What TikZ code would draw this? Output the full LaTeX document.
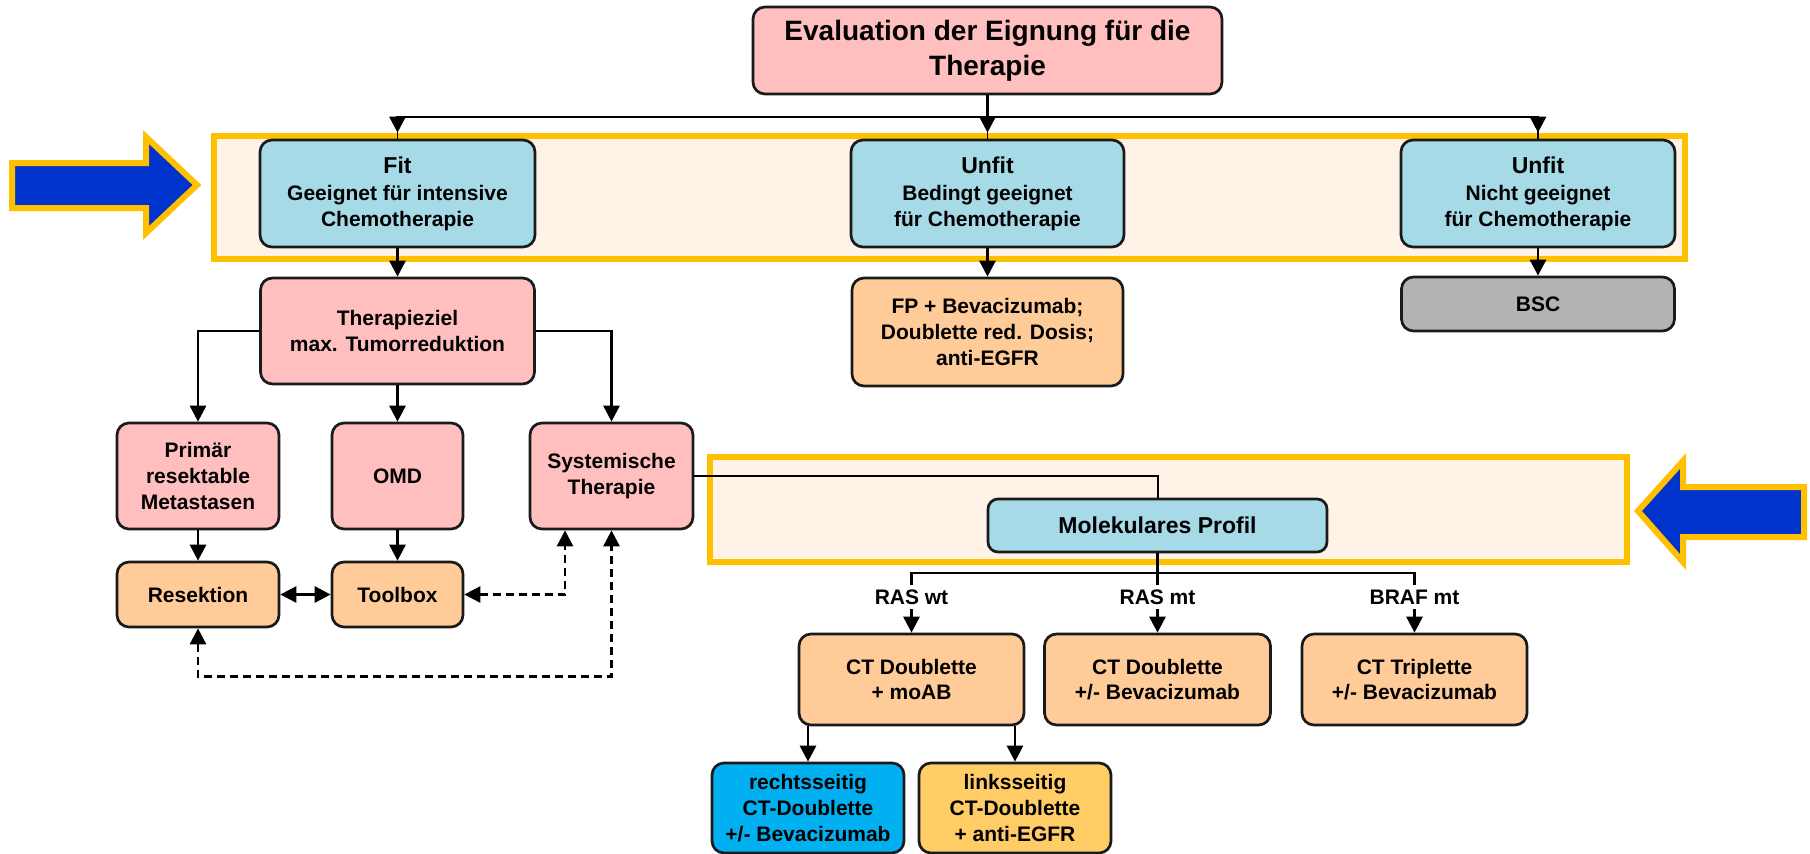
\documentclass[tikz,border=0pt]{standalone}
\usepackage{fontspec}
\setmainfont{Liberation Sans}
\usetikzlibrary{arrows.meta,calc,backgrounds}
\definecolor{pinkbox}{HTML}{FFBFBF}
\definecolor{bluebox}{HTML}{A5DAE6}
\definecolor{orangebox}{HTML}{FFCC99}
\definecolor{graybox}{HTML}{B3B3B3}
\definecolor{framefill}{HTML}{FFF2E6}
\definecolor{frameyellow}{HTML}{FFC000}
\definecolor{arrowblue}{HTML}{0033CC}
\definecolor{cyanbox}{HTML}{00B0F0}
\definecolor{ambox}{HTML}{FFCC66}
\definecolor{edge}{HTML}{1A1A1A}
\newcommand\myhdfont{\fontsize{11.5}{14}\selectfont}
\tikzset{
  bx/.style={draw=edge, line width=1.35pt, rounded corners=6pt, align=center, inner sep=0pt,
    font=\bfseries\fontsize{10.5}{12.8}\selectfont, text=black},
  lab/.style={inner sep=0pt, minimum height=12pt, font=\bfseries\fontsize{10.5}{12.8}\selectfont},
  conn/.style={line width=1.4pt, draw=black},
  arr/.style={conn, -{Triangle[length=8pt,width=8pt]}},
  darr/.style={conn, {Triangle[length=8pt,width=8pt]}-{Triangle[length=8pt,width=8pt]}},
  dsh/.style={dash pattern=on 4pt off 2.5pt},
  frm/.style={fill=framefill, draw=frameyellow, line width=3pt},
  bigarrow/.style={fill=arrowblue, draw=frameyellow, line width=3pt, line join=miter},
}
\begin{document}
\begin{tikzpicture}[x=0.5pt, y=-0.5pt]
\useasboundingbox (0,0) rectangle (1810,853);

% nodes
\node[bx, fill=pinkbox, minimum width=234.5pt, minimum height=43.5pt,
  font=\bfseries\fontsize{14}{17.5}\selectfont] (title) at (987.5,50.5)
  {Evaluation der Eignung für die\\Therapie};

\node[bx, fill=bluebox, minimum width=137.5pt, minimum height=53.5pt] (fit) at (397.5,193.5)
  {{\myhdfont Fit}\\[1pt] Geeignet für intensive\\ Chemotherapie};
\node[bx, fill=bluebox, minimum width=136.5pt, minimum height=53.5pt] (unfitA) at (987.5,193.5)
  {{\myhdfont Unfit}\\[1pt] Bedingt geeignet\\ für Chemotherapie};
\node[bx, fill=bluebox, minimum width=137pt, minimum height=53.5pt] (unfitB) at (1538,193.5)
  {{\myhdfont Unfit}\\[1pt] Nicht geeignet\\ für Chemotherapie};

\node[bx, fill=pinkbox, minimum width=137pt, minimum height=53pt] (ziel) at (397.5,331)
  {Therapieziel\\ max. Tumorreduktion};
\node[bx, fill=orangebox, minimum width=135.5pt, minimum height=54pt] (fp) at (987.5,332)
  {FP + Bevacizumab;\\ Doublette red. Dosis;\\ anti-EGFR};
\node[bx, fill=graybox, minimum width=136.5pt, minimum height=27pt] (bsc) at (1538,304)
  {BSC};

\node[bx, fill=pinkbox, minimum width=81pt, minimum height=53pt] (prim) at (198,476)
  {Primär\\ resektable\\ Metastasen};
\node[bx, fill=pinkbox, minimum width=65.5pt, minimum height=53pt] (omd) at (397.5,476)
  {OMD};
\node[bx, fill=pinkbox, minimum width=81.5pt, minimum height=53pt] (sys) at (611.5,476)
  {Systemische\\ Therapie};

\node[bx, fill=orangebox, minimum width=81pt, minimum height=32.5pt] (res) at (198,594.5)
  {Resektion};
\node[bx, fill=orangebox, minimum width=65.5pt, minimum height=32.5pt] (tool) at (397.5,594.5)
  {Toolbox};

\node[bx, fill=bluebox, minimum width=169.5pt, minimum height=26.5pt, rounded corners=5pt,
  font=\bfseries\fontsize{11.5}{14}\selectfont] (mol) at (1157.5,525.5)
  {Molekulares Profil};

\node[lab] (labA) at (911.5,597) {RAS wt};
\node[lab] (labB) at (1157.5,597) {RAS mt};
\node[lab] (labC) at (1414.5,597) {BRAF mt};

\node[bx, fill=orangebox, minimum width=112.5pt, minimum height=45.5pt] (ctA) at (911.5,679.5)
  {CT Doublette\\ + moAB};
\node[bx, fill=orangebox, minimum width=113pt, minimum height=45.5pt] (ctB) at (1157.5,679.5)
  {CT Doublette\\ +/- Bevacizumab};
\node[bx, fill=orangebox, minimum width=112.5pt, minimum height=45.5pt] (ctC) at (1414.5,679.5)
  {CT Triplette\\ +/- Bevacizumab};

\node[bx, fill=cyanbox, minimum width=96pt, minimum height=45pt] (re) at (808,808)
  {rechtsseitig\\ CT-Doublette\\ +/- Bevacizumab};
\node[bx, fill=ambox, minimum width=96pt, minimum height=45pt] (li) at (1015,808)
  {linksseitig\\ CT-Doublette\\ + anti-EGFR};

% background frames and arrows
\begin{scope}[on background layer]
  \draw[frm] (214,136) rectangle (1685,259);
  \draw[frm] (710,457) rectangle (1627,562);
  \draw[bigarrow] (12,163) -- (146,163) -- (146,137) -- (197,185) -- (146,233) -- (146,208) -- (12,208) -- cycle;
  \draw[bigarrow] (1638,511) -- (1683,461) -- (1683,487) -- (1804,487) -- (1804,537) -- (1683,537) -- (1683,562) -- cycle;
\end{scope}

% connectors: top level
\coordinate (split) at (987.5,117);
\draw[conn] (title.south) -- (split);
\draw[arr, shorten >=3pt] (split) -| (fit.north);
\draw[arr, shorten >=3pt] (split) -- (unfitA.north);
\draw[arr, shorten >=3pt] (split) -| (unfitB.north);
\draw[line width=0.6pt] (fit.north) -- ++(0,-8);
\draw[line width=0.6pt] (unfitA.north) -- ++(0,-8);
\draw[line width=0.6pt] (unfitB.north) -- ++(0,-8);

\draw[arr] (fit.south) -- (ziel.north);
\draw[arr] (unfitA.south) -- (fp.north);
\draw[arr] (unfitB.south) -- (bsc.north);

% Therapieziel branches
\draw[arr] (ziel.west) -| (prim.north);
\draw[arr] (ziel.south) -- (omd.north);
\draw[arr] (ziel.east) -| (sys.north);

\draw[arr] (prim.south) -- (res.north);
\draw[arr] (omd.south) -- (tool.north);
\draw[darr] (res.east) -- (tool.west);
\draw[darr, dsh] (tool.east) -| ([xshift=-23.25pt]sys.south);
\draw[darr, dsh] (res.south) -- ++(0,48) -| (sys.south);

% Molecular profile
\draw[conn, line width=1pt] (sys.east) -| (mol.north);
\coordinate (split2) at (1157.5,573);
\draw[conn] (mol.south) -- (split2);
\draw[conn] (split2) -| (labA.north);
\draw[conn] (split2) -- (labB.north);
\draw[conn] (split2) -| (labC.north);
\draw[arr] (labA.south) -- (ctA.north);
\draw[arr] (labB.south) -- (ctB.north);
\draw[arr] (labC.south) -- (ctC.north);

\draw[arr] ([xshift=-51.75pt]ctA.south) -- (re.north);
\draw[arr] ([xshift=51.75pt]ctA.south) -- (li.north);
\end{tikzpicture}
\end{document}
